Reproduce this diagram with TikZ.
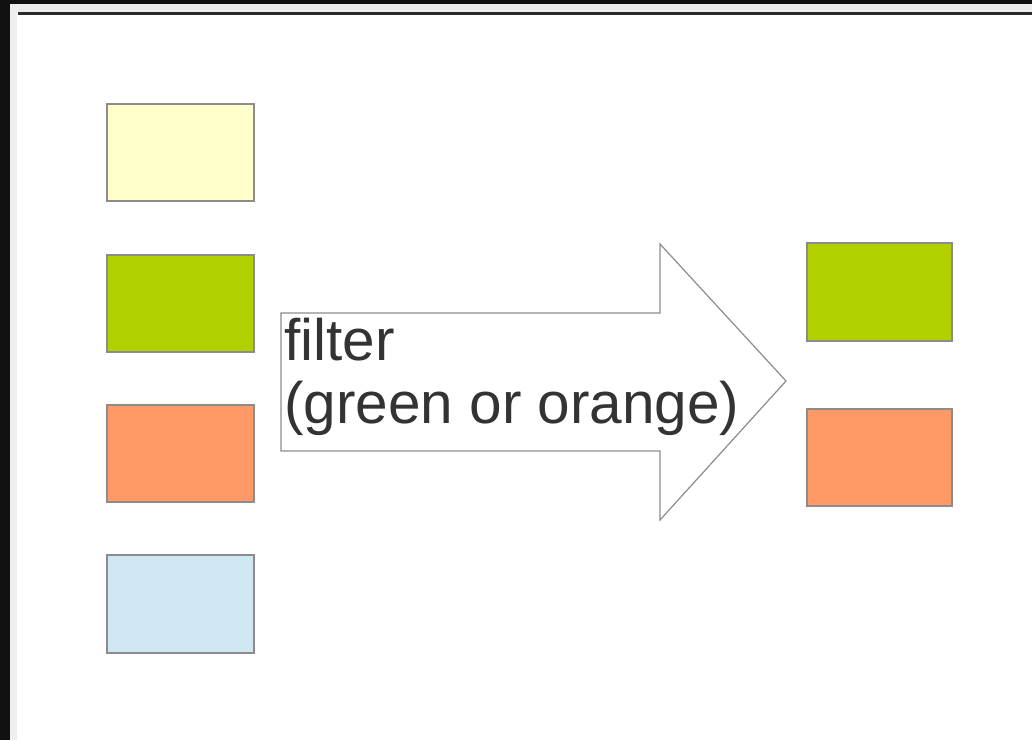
\documentclass[tikz,border=0pt]{standalone}
\usepackage{fontspec}
\setmainfont{Liberation Sans}
\definecolor{frameDark}{HTML}{111111}
\definecolor{frameLight}{HTML}{EEEEEE}
\definecolor{lineDark}{HTML}{2A2A2A}
\definecolor{boxYellow}{HTML}{FFFFCC}
\definecolor{boxGreen}{HTML}{B2D000}
\definecolor{boxOrange}{HTML}{FF9966}
\definecolor{boxBlue}{HTML}{CFE6F3}
\definecolor{edgeGray}{HTML}{8C8C8C}
\definecolor{textGray}{HTML}{333333}
\begin{document}
\begin{tikzpicture}[x=1pt,y=-1pt,
  swatch/.style={draw=edgeGray, line width=1.2pt},
  lbl/.style={anchor=base west, inner sep=0pt, text=textGray, font=\fontsize{58.5}{64}\selectfont}]
\useasboundingbox (0,0) rectangle (1032,740);
% frame
\fill[frameDark] (0,0) rectangle (1032,740);
\fill[frameLight] (10,4) rectangle (1032,740);
\fill[white] (17,12) rectangle (1032,740);
\fill[lineDark] (18,12) rectangle (1032,14.5);
% left column
\path[swatch, fill=boxYellow] (107,104) rectangle (254,201) node[coordinate] (y1) {};
\path[swatch, fill=boxGreen] (107,255) rectangle (254,352) node[coordinate] (g1) {};
\path[swatch, fill=boxOrange] (107,405) rectangle (254,502) node[coordinate] (o1) {};
\path[swatch, fill=boxBlue] (107,555) rectangle (254,653) node[coordinate] (b1) {};
% right column
\path[swatch, fill=boxGreen] (807,243) rectangle (952,341) node[coordinate] (g2) {};
\path[swatch, fill=boxOrange] (807,409) rectangle (952,506) node[coordinate] (o2) {};
% arrow
\draw[edgeGray, line width=1.2pt, fill=white, line join=miter]
  (281,313) -- (660,313) -- (660,244) -- (786,381) -- (660,520) -- (660,451) -- (281,451) -- cycle;
\node[lbl] (t1) at (284,360) {filter};
\node[lbl] (t2) at (284,423) {(green or orange)};
\end{tikzpicture}
\end{document}
